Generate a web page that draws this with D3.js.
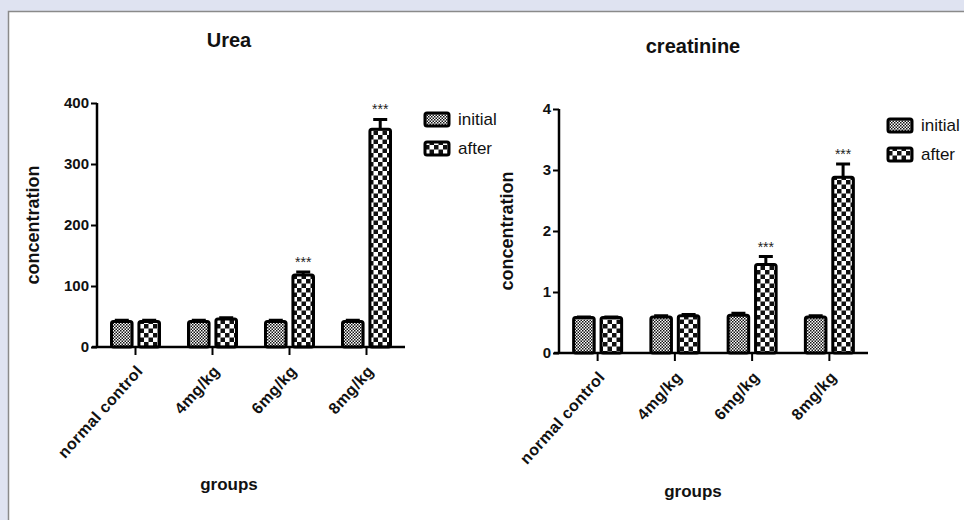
<!DOCTYPE html>
<html>
<head>
<meta charset="utf-8">
<script src="https://cdn.jsdelivr.net/npm/d3@7"></script>
<style>
  body { margin: 0; background: #dfe3f1; }
  svg { display: block; }
</style>
</head>
<body>
<svg width="964" height="520"></svg>
<script>
var groups = ["normal control", "4mg/kg", "6mg/kg", "8mg/kg"];
var series = ["initial", "after"];

var ureaInitial = [42, 42, 42, 42];
var ureaAfter = [42, 46, 118, 357];
var ureaInitialErr = [2, 2, 2, 2];
var ureaAfterErr = [2, 2, 5, 16];
var ureaTicks = [0, 100, 200, 300, 400];

var creaInitial = [0.58, 0.59, 0.62, 0.59];
var creaAfter = [0.58, 0.61, 1.45, 2.88];
var creaInitialErr = [0.01, 0.02, 0.03, 0.02];
var creaAfterErr = [0.01, 0.02, 0.13, 0.22];
var creaTicks = [0, 1, 2, 3, 4];

var signif = ["", "", "***", "***"];

var svg = d3.select("svg");
var font = "'Liberation Sans', Arial, sans-serif";

// white panel with thin grey frame
svg.append("rect")
  .attr("x", 8.5).attr("y", 11.5)
  .attr("width", 1000).attr("height", 600)
  .attr("fill", "#fff")
  .attr("stroke", "#8a8a8a")
  .attr("stroke-width", 1.5);

// fill patterns
var defs = svg.append("defs");
var pFine = defs.append("pattern")
  .attr("id", "p-initial")
  .attr("patternUnits", "userSpaceOnUse")
  .attr("width", 3).attr("height", 3);
pFine.append("rect").attr("width", 3).attr("height", 3).attr("fill", "#fff");
pFine.append("rect").attr("width", 1.5).attr("height", 1.5).attr("fill", "#111");
pFine.append("rect").attr("x", 1.5).attr("y", 1.5).attr("width", 1.5).attr("height", 1.5).attr("fill", "#111");

var pCoarse = defs.append("pattern")
  .attr("id", "p-after")
  .attr("patternUnits", "userSpaceOnUse")
  .attr("width", 9).attr("height", 9);
pCoarse.append("rect").attr("width", 9).attr("height", 9).attr("fill", "#fff");
pCoarse.append("rect").attr("width", 4.5).attr("height", 4.5).attr("fill", "#111");
pCoarse.append("rect").attr("x", 4.5).attr("y", 4.5).attr("width", 4.5).attr("height", 4.5).attr("fill", "#111");

function drawChart(opt) {
  var g = svg.append("g");

  var x0 = d3.scaleBand().domain(groups).range([opt.left, opt.right]);
  var x1 = d3.scaleBand().domain(series).range([-24, 24]).paddingInner(0.25);
  var y = d3.scaleLinear().domain(opt.domain).range([opt.bottom, opt.top]);

  var rows = groups.map(function(grp, i) {
    return [
      { group: grp, key: "initial", v: opt.initial[i], e: opt.initialErr[i], s: "" },
      { group: grp, key: "after", v: opt.after[i], e: opt.afterErr[i], s: signif[i] }
    ];
  });
  var flat = [].concat.apply([], rows);

  function cx(d) { return x0(d.group) + x0.bandwidth() / 2 + x1(d.key); }

  // error bars
  g.selectAll(".err")
    .data(flat)
    .enter().append("path")
      .attr("fill", "none")
      .attr("stroke", "#000")
      .attr("stroke-width", 3)
      .attr("d", function(d) {
        var c = cx(d) + x1.bandwidth() / 2;
        var yt = y(d.v + d.e);
        return "M" + c + "," + y(d.v) + "V" + yt + "M" + (c - 7) + "," + yt + "H" + (c + 7);
      });

  // bars
  g.selectAll(".bar")
    .data(flat)
    .enter().append("rect")
      .attr("x", cx)
      .attr("y", function(d) { return y(d.v); })
      .attr("width", x1.bandwidth())
      .attr("height", function(d) { return y(0) - y(d.v); })
      .attr("rx", 2)
      .attr("fill", function(d) { return "url(#p-" + d.key + ")"; })
      .attr("stroke", "#000")
      .attr("stroke-width", 3);

  // significance stars
  g.selectAll(".star")
    .data(flat.filter(function(d) { return d.s; }))
    .enter().append("text")
      .attr("x", function(d) { return cx(d) + x1.bandwidth() / 2; })
      .attr("y", function(d) { return y(d.v + d.e) - 5; })
      .attr("text-anchor", "middle")
      .attr("font-family", font)
      .attr("font-size", 14)
      .attr("fill", "#222")
      .text(function(d) { return d.s; });

  // y axis
  var yAxis = g.append("g")
    .attr("transform", "translate(" + opt.left + ",0)")
    .call(d3.axisLeft(y).tickValues(opt.ticks).tickSize(6).tickPadding(2).tickFormat(d3.format("d")));
  yAxis.select(".domain").attr("d", "M0," + opt.top + "V" + opt.bottom).attr("stroke-width", 2.5);
  yAxis.selectAll(".tick line").attr("stroke-width", 2);
  yAxis.selectAll(".tick text")
    .attr("font-family", font)
    .attr("font-size", 15)
    .attr("font-weight", "bold")
    .attr("fill", "#111");

  // x axis
  var xAxis = g.append("g")
    .attr("transform", "translate(0," + opt.bottom + ")")
    .call(d3.axisBottom(x0).tickSize(8).tickPadding(4));
  xAxis.select(".domain").attr("d", "M" + (opt.left - 5) + ",0H" + opt.right).attr("stroke-width", 2.5);
  xAxis.selectAll(".tick line").attr("stroke-width", 2);
  xAxis.selectAll(".tick text")
    .attr("x", 0).attr("y", 0)
    .attr("font-family", font)
    .attr("font-size", 16)
    .attr("font-weight", "bold")
    .attr("letter-spacing", 0.4)
    .attr("fill", "#111")
    .attr("text-anchor", "end")
    .attr("dy", "0.35em")
    .attr("transform", "translate(4,21) rotate(-48)");

  // titles
  g.append("text")
    .attr("x", opt.titleX).attr("y", opt.titleY)
    .attr("text-anchor", "middle")
    .attr("font-family", font).attr("font-size", 20).attr("font-weight", "bold")
    .attr("fill", "#111")
    .text(opt.title);

  g.append("text")
    .attr("transform", "translate(" + opt.ylabX + "," + (opt.top + opt.bottom) / 2 + ") rotate(-90)")
    .attr("text-anchor", "middle")
    .attr("font-family", font).attr("font-size", 18).attr("font-weight", "bold")
    .attr("fill", "#111")
    .text("concentration");

  g.append("text")
    .attr("x", opt.titleX).attr("y", opt.xlabY)
    .attr("text-anchor", "middle")
    .attr("font-family", font).attr("font-size", 17).attr("font-weight", "bold")
    .attr("fill", "#111")
    .text("groups");

  // legend
  var leg = g.selectAll(".leg")
    .data(series)
    .enter().append("g")
      .attr("transform", function(d, i) { return "translate(" + opt.legX + "," + (opt.legY + i * 29) + ")"; });
  leg.append("rect")
    .attr("x", 0).attr("y", -12)
    .attr("width", 24).attr("height", 13)
    .attr("rx", 2)
    .attr("fill", function(d) { return "url(#p-" + d + ")"; })
    .attr("stroke", "#000")
    .attr("stroke-width", 3);
  leg.append("text")
    .attr("x", 33).attr("y", 0)
    .attr("font-family", font).attr("font-size", 17)
    .attr("fill", "#111")
    .text(function(d) { return d; });
}

drawChart({
  title: "Urea", titleX: 229, titleY: 47, xlabY: 490, ylabX: 39,
  left: 97, right: 405, top: 103, bottom: 347,
  domain: [0, 400], ticks: ureaTicks,
  initial: ureaInitial, after: ureaAfter,
  initialErr: ureaInitialErr, afterErr: ureaAfterErr,
  legX: 425, legY: 125
});

drawChart({
  title: "creatinine", titleX: 693, titleY: 53, xlabY: 497, ylabX: 513,
  left: 559, right: 868, top: 109, bottom: 353,
  domain: [0, 4], ticks: creaTicks,
  initial: creaInitial, after: creaAfter,
  initialErr: creaInitialErr, afterErr: creaAfterErr,
  legX: 888, legY: 131
});
</script>
</body>
</html>
